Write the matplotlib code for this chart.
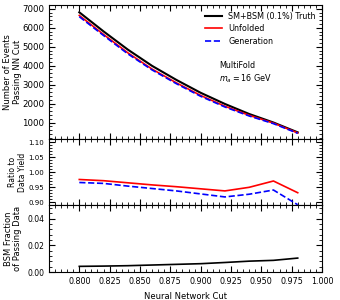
import numpy as np
import matplotlib
matplotlib.use('Agg')
import matplotlib.pyplot as plt
from matplotlib.ticker import AutoMinorLocator

# --- Data ---
nn_cut = [0.80, 0.82, 0.84, 0.86, 0.88, 0.90, 0.92, 0.94, 0.96, 0.98]
truth = [6820, 5810, 4850, 3990, 3250, 2570, 1980, 1450, 1000, 480]
unfolded = [6655, 5650, 4680, 3820, 3095, 2430, 1860, 1380, 970, 450]
generation = [6590, 5595, 4625, 3775, 3050, 2385, 1820, 1345, 940, 430]
ratio_unfolded = [0.976, 0.972, 0.965, 0.958, 0.952, 0.945, 0.938, 0.950, 0.971, 0.932]
ratio_generation = [0.966, 0.963, 0.954, 0.946, 0.938, 0.928, 0.918, 0.927, 0.941, 0.892]
bsm_fraction = [0.0043, 0.0045, 0.0048, 0.0053, 0.0058, 0.0063, 0.0072, 0.0082, 0.0088, 0.0105]

LABEL_FS = 6

fig = plt.figure(figsize=(3.4, 3.0), dpi=100)
gs = fig.add_gridspec(3, 1, height_ratios=[2, 1, 1], hspace=0,
                      left=0.144, right=0.947, top=0.983, bottom=0.093)
ax1 = fig.add_subplot(gs[0])
ax2 = fig.add_subplot(gs[1], sharex=ax1)
ax3 = fig.add_subplot(gs[2], sharex=ax1)

# top: event counts
ax1.plot(nn_cut, truth, color='black', lw=1.5, label='SM+BSM (0.1%) Truth')
ax1.plot(nn_cut, unfolded, color='red', lw=1.2, label='Unfolded')
ax1.plot(nn_cut, generation, color='blue', lw=1.2, ls='--', label='Generation')
ax1.set_ylim(150, 7200)
ax1.set_yticks([1000, 2000, 3000, 4000, 5000, 6000, 7000])
ax1.set_ylabel('Number of Events\nPassing NN Cut', fontsize=LABEL_FS, linespacing=1.1)
ax1.legend(loc='upper right', fontsize=5.8, frameon=False, handlelength=2.0,
           borderaxespad=0.4, labelspacing=0.45)
ax1.text(0.623, 0.585, 'MultiFold\n$m_a = 16$ GeV', transform=ax1.transAxes,
         fontsize=5.8, va='top', ha='left', linespacing=1.3)

# middle: ratio
ax2.plot(nn_cut, ratio_unfolded, color='red', lw=1.2)
ax2.plot(nn_cut, ratio_generation, color='blue', lw=1.2, ls='--')
ax2.set_ylim(0.89, 1.112)
ax2.set_yticks([0.90, 0.95, 1.00, 1.05, 1.10])
ax2.set_ylabel('Ratio to\nData Yield', fontsize=5.5, linespacing=1.1)

# bottom: BSM fraction
ax3.plot(nn_cut, bsm_fraction, color='black', lw=1.2)
ax3.set_ylim(0, 0.05)
ax3.set_yticks([0.00, 0.02, 0.04])
ax3.set_ylabel('BSM Fraction\nof Passing Data', fontsize=LABEL_FS, linespacing=1.1)
ax3.set_xlabel('Neural Network Cut', fontsize=LABEL_FS)
ax3.set_xlim(0.775, 1.0)
ax3.set_xticks([0.800, 0.825, 0.850, 0.875, 0.900, 0.925, 0.950, 0.975, 1.000])

for ax in (ax1, ax2, ax3):
    ax.xaxis.set_minor_locator(AutoMinorLocator(5))
    ax.yaxis.set_minor_locator(AutoMinorLocator(5))
    ax.tick_params(which='both', direction='in', top=True, right=True, labelsize=5.8)
    ax.tick_params(which='major', length=4, width=0.8)
    ax.tick_params(which='minor', length=2, width=0.6)
    for s in ax.spines.values():
        s.set_linewidth(0.8)
for ax in (ax1, ax2):
    plt.setp(ax.get_xticklabels(), visible=False)

ax1.tick_params(axis='y', labelsize=6.2)
ax2.tick_params(axis='y', labelsize=5)
ax3.tick_params(axis='y', labelsize=5.5)

ax1.yaxis.set_label_coords(-0.1, 0.5)
ax2.yaxis.set_label_coords(-0.082, 0.5)
ax3.yaxis.set_label_coords(-0.097, 0.5)

fig.savefig('out.png', dpi=100)
